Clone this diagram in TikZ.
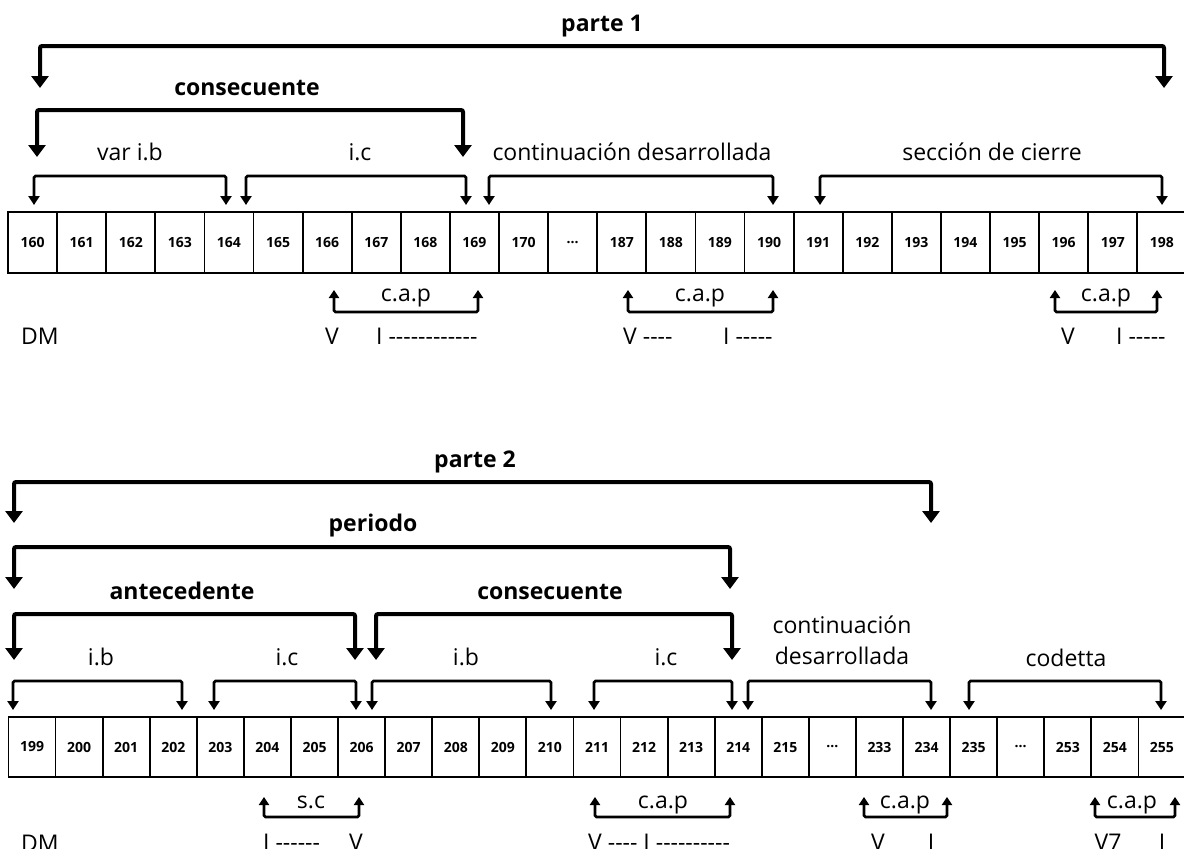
\documentclass[tikz,border=0pt]{standalone}
\usepackage{fontspec}
\setmainfont{Open Sans}[Ligatures=TeXOff]
\usetikzlibrary{arrows.meta}
\newcommand\elip{...}
% bracket: name, left x, right x, bar y, tip y, style
\newcommand\brk[6]{%
  \coordinate (#1-l) at (#2,#5);
  \coordinate (#1-r) at (#3,#5);
  \draw[#6] (#1-l) -- (#2,#4) -- (#3,#4) -- (#1-r);
}
\begin{document}
\begin{tikzpicture}[x=1pt,y=-1pt,
  lab/.style={font=\fontsize{23}{27}\selectfont, inner sep=0pt, anchor=base},
  blab/.style={font=\fontsize{23}{27}\selectfont\bfseries, inner sep=0pt, anchor=base},
  cellA/.style={draw, line width=1.8pt, minimum width=49.1pt, minimum height=61pt,
    inner sep=0pt, font=\fontsize{14}{16}\selectfont\bfseries},
  cellB/.style={cellA, minimum width=47.08pt, minimum height=60pt},
  bigbrk/.style={line width=4pt, rounded corners=2pt,
    arrows={Triangle[width=17pt,length=12pt]-Triangle[width=17pt,length=12pt]}},
  midbrk/.style={line width=2.7pt, rounded corners=1.5pt,
    arrows={Triangle[width=11pt,length=9pt]-Triangle[width=11pt,length=9pt]}},
  capbrk/.style={line width=2.6pt, rounded corners=1.5pt,
    arrows={Triangle[width=10pt,length=8pt]-Triangle[width=10pt,length=8pt]}}
]
\useasboundingbox[fill=white] (0,0) rectangle (1184,849);

% ---------- parte 1 ----------
\foreach \t [count=\i from 0] in {160,161,162,163,164,165,166,167,168,169,170,\elip,
  187,188,189,190,191,192,193,194,195,196,197,198}
  \node[cellA] (t\i) at ({8+(\i+0.5)*49.1},242.5) {\t};

\node[blab] (p1) at (602,31) {parte 1};
\brk{bp1}{40}{1164}{46}{88}{bigbrk}
\node[blab] (cons1) at (247,95) {consecuente};
\brk{bc1}{37}{463}{110}{157}{bigbrk}

\node[lab] (varib) at (130,160) {var i.b};
\node[lab] (ic1) at (360,160) {i.c};
\node[lab] (cont1) at (632,160) {continuación desarrollada};
\node[lab] (cierre) at (992,160) {sección de cierre};
\brk{s1}{34}{226}{176}{205}{midbrk}
\brk{s2}{246}{466}{176}{205}{midbrk}
\brk{s3}{489}{773}{176}{205}{midbrk}
\brk{s4}{820}{1162}{176}{205}{midbrk}

\brk{k1}{334}{478}{312}{290}{capbrk}
\brk{k2}{628}{773}{312}{290}{capbrk}
\brk{k3}{1055}{1157}{312}{290}{capbrk}
\node[lab] (cap1) at (406,301) {c.a.p};
\node[lab] (cap2) at (700,301) {c.a.p};
\node[lab] (cap3) at (1106,301) {c.a.p};

\node[lab,anchor=base west] (dm1) at (21,344) {DM};
\node[lab] (h1) at (332,344) {V};
\node[lab,anchor=base west] (h2) at (376,344) {I ------------};
\node[lab,anchor=base west] (h3) at (623,344) {V ----};
\node[lab,anchor=base west] (h4) at (723,344) {I -----};
\node[lab] (h5) at (1068,344) {V};
\node[lab,anchor=base west] (h6) at (1116,344) {I -----};

% ---------- parte 2 ----------
\foreach \t [count=\i from 0] in {199,200,201,202,203,204,205,206,207,208,209,210,
  211,212,213,214,215,\elip,233,234,235,\elip,253,254,255}
  \node[cellB] (b\i) at ({8.5+(\i+0.5)*47.08},747) {\t};

\node[blab] (p2) at (475,467) {parte 2};
\brk{bp2}{14}{931}{482}{523}{bigbrk}
\node[blab] (per) at (373,531) {periodo};
\brk{bpe}{14}{730}{547}{589}{bigbrk}
\node[blab] (ant) at (182,599) {antecedente};
\node[blab] (cons2) at (550,599) {consecuente};
\brk{ban}{14}{355}{614}{660}{bigbrk}
\brk{bc2}{376}{732}{614}{660}{bigbrk}

\node[lab] (ib1) at (101,665) {i.b};
\node[lab] (ic2) at (287,665) {i.c};
\node[lab] (ib2) at (466,665) {i.b};
\node[lab] (ic3) at (666,665) {i.c};
\node[lab] (cont2a) at (842,633) {continuación};
\node[lab] (cont2b) at (842,664) {desarrollada};
\node[lab] (cod) at (1066,666) {codetta};
\brk{u1}{13}{182}{681}{710}{midbrk}
\brk{u2}{214}{356}{681}{710}{midbrk}
\brk{u3}{372}{551}{681}{710}{midbrk}
\brk{u4}{594}{732}{681}{710}{midbrk}
\brk{u5}{748}{931}{681}{710}{midbrk}
\brk{u6}{969}{1161}{681}{710}{midbrk}

\brk{q1}{264}{359}{817}{797}{capbrk}
\brk{q2}{595}{730}{817}{797}{capbrk}
\brk{q3}{864}{947}{817}{797}{capbrk}
\brk{q4}{1095}{1175}{817}{797}{capbrk}
\node[lab] (sc) at (311,808) {s.c};
\node[lab] (cap4) at (663,808) {c.a.p};
\node[lab] (cap5) at (905,808) {c.a.p};
\node[lab] (cap6) at (1132,808) {c.a.p};

\node[lab,anchor=base west] (dm2) at (21,851) {DM};
\node[lab,anchor=base west] (g1) at (263,850) {I ------};
\node[lab] (g2) at (356,850) {V};
\node[lab,anchor=base west] (g3) at (588,850) {V ---- I ----------};
\node[lab] (g4) at (878,850) {V};
\node[lab] (g5) at (931,850) {I};
\node[lab] (g6) at (1108,850) {V7};
\node[lab] (g7) at (1162,850) {I};
\end{tikzpicture}
\end{document}
